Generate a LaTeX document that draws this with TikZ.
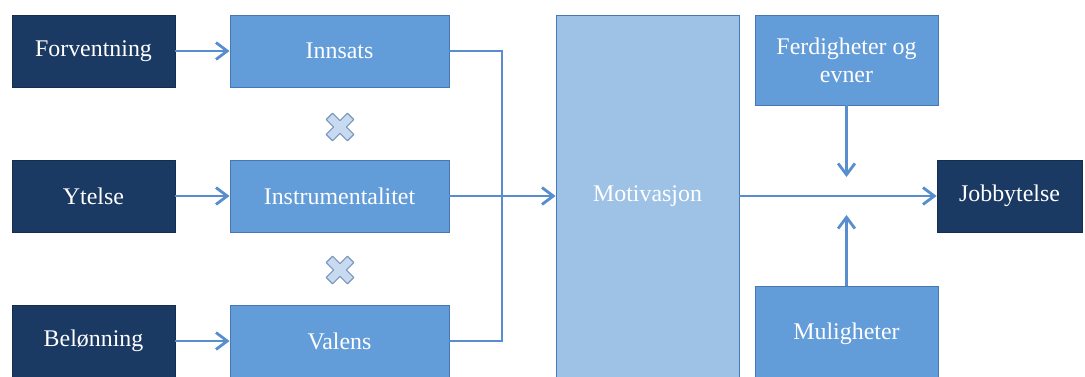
\documentclass[tikz,border=0pt]{standalone}
\usepackage{fontspec}
\setmainfont{Liberation Serif}
\usepackage{tikz}
\usetikzlibrary{arrows.meta, shadows, positioning}
\definecolor{navy}{RGB}{26,57,99}
\definecolor{midblue}{RGB}{98,156,217}
\definecolor{paleblue}{RGB}{158,194,230}
\definecolor{edgeblue}{RGB}{72,120,180}
\definecolor{linkblue}{RGB}{88,142,206}
\definecolor{crossfill}{RGB}{200,218,240}
\definecolor{crossedge}{RGB}{120,150,190}
\tikzstyle{box} = [rectangle, text centered, text=white, draw=edgeblue, line width=0.6pt,
                   font=\fontsize{17}{20}\selectfont, inner sep=2pt,
                   drop shadow={opacity=0.25, shadow xshift=1pt, shadow yshift=-1pt}]
\tikzstyle{darkbox} = [box, fill=navy, draw=navy!80!black, minimum width=163*0.025cm, minimum height=72*0.025cm]
\tikzstyle{midbox} = [box, fill=midblue, minimum width=219*0.025cm, minimum height=72*0.025cm]
\tikzstyle{sidebox} = [box, fill=midblue, minimum width=183*0.025cm, align=center]
\tikzstyle{arrow} = [draw=linkblue, line width=2pt, -{Straight Barb[length=8pt, width=12pt, line width=2pt]}]
\tikzstyle{line} = [draw=linkblue, line width=2pt]
\tikzstyle{mult} = [fill=crossfill, draw=crossedge, line width=0.8pt, line join=round]
\begin{document}
\begin{tikzpicture}[x=0.025cm, y=0.025cm]
    \useasboundingbox (0,0) rectangle (1085,376);
    % left column
    \node (forv) [darkbox] at (93.5,325) {Forventning};
    \node (ytel) [darkbox] at (93.5,180) {Ytelse};
    \node (belo) [darkbox] at (93.5,35) {Belønning};
    % middle column
    \node (inns) [midbox] at (339.5,325) {Innsats};
    \node (inst) [midbox] at (339.5,180) {Instrumentalitet};
    \node (vale) [midbox] at (339.5,35) {Valens};
    \coordinate (x1) at (340,249);
    \coordinate (x2) at (340,106);
    % right part
    \node (moti) [box, fill=paleblue, minimum width=183*0.025cm, minimum height=362*0.025cm] at (647.5,180) {Motivasjon};
    \node (ferd) [sidebox, minimum height=90*0.025cm] at (846.5,316) {Ferdigheter og\\evner};
    \node (muli) [sidebox, minimum height=96*0.025cm] at (846.5,42) {Muligheter};
    \node (jobb) [darkbox, minimum width=145*0.025cm] at (1009.5,180) {Jobbytelse};
    \coordinate (bus) at (502,180);
    \coordinate (fend) at (846.5,199);
    \coordinate (mend) at (846.5,161);

    \draw [arrow] (forv) -- (inns);
    \draw [arrow] (ytel) -- (inst);
    \draw [arrow] (belo) -- (vale);
    \draw [line] (inns.east) -| (bus);
    \draw [line] (vale.east) -| (bus);
    \draw [arrow] (inst.east) -- (moti.west);
    \draw [arrow] (moti.east) -- (jobb.west);
    \draw [arrow] (ferd.south) -- (fend);
    \draw [arrow] (muli.north) -- (mend);
    \foreach \c in {x1,x2}
        \draw [mult, shift={(\c)}, rotate=45] (-4.5,-15) -- (4.5,-15) -- (4.5,-4.5) -- (15,-4.5) -- (15,4.5) -- (4.5,4.5) -- (4.5,15) -- (-4.5,15) -- (-4.5,4.5) -- (-15,4.5) -- (-15,-4.5) -- (-4.5,-4.5) -- cycle;
\end{tikzpicture}
\end{document}
